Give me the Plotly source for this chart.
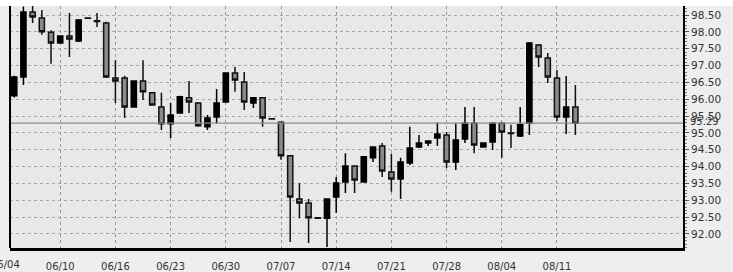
import plotly.graph_objects as go

# trading-day index (6 sessions per week), index 0 = 06/04 (left of visible range)
day_index = list(range(1, 63))

open_ = [96.10, 96.66, 98.59, 98.41, 97.99, 97.67, 97.88, 97.73, 98.41, 98.33,
         98.26, 96.63, 96.63, 95.77, 96.54, 96.19, 95.77, 95.27, 95.59, 96.04,
         95.89, 95.18, 95.47, 95.92, 96.78, 96.51, 95.89, 96.04, 95.42, 95.32,
         94.32, 93.04, 92.92, 92.48, 92.47, 93.10, 93.54, 94.02, 93.54, 94.26,
         94.61, 93.84, 93.63, 94.11, 94.58, 94.70, 94.85, 94.94, 94.14, 94.82,
         95.29, 94.58, 94.73, 95.29, 95.00, 94.91, 95.29, 97.61, 97.22, 96.63,
         95.47, 95.77]
high_ = [96.70, 98.75, 98.85, 98.65, 98.05, 97.90, 98.56, 98.38, 98.43, 98.56,
         98.30, 97.16, 96.70, 96.56, 97.16, 96.20, 96.19, 95.89, 96.10, 96.54,
         95.92, 95.53, 96.30, 96.80, 96.96, 96.81, 96.06, 96.06, 95.43, 95.34,
         94.34, 93.51, 93.04, 92.49, 93.06, 93.69, 94.40, 94.04, 94.31, 94.60,
         94.70, 94.38, 94.26, 95.18, 94.94, 94.77, 95.32, 95.03, 95.29, 95.77,
         95.77, 94.72, 95.32, 95.32, 95.24, 95.77, 97.70, 97.64, 97.37, 96.87,
         96.69, 96.42]
low_ = [96.05, 96.42, 98.26, 97.91, 97.05, 97.65, 97.25, 97.70, 98.39, 98.14,
        96.63, 95.89, 95.44, 95.75, 95.98, 95.81, 95.09, 94.85, 95.57, 95.59,
        95.18, 95.09, 95.27, 95.90, 96.22, 95.68, 95.74, 95.18, 95.40, 94.20,
        91.76, 92.47, 91.73, 92.46, 91.61, 92.62, 93.22, 93.22, 93.52, 94.14,
        93.69, 93.25, 93.04, 94.05, 94.55, 94.61, 94.61, 93.96, 93.90, 94.70,
        94.40, 94.56, 94.49, 94.26, 94.55, 94.88, 94.94, 96.96, 96.48, 95.35,
        94.97, 94.94]
close_ = [96.66, 98.59, 98.44, 98.00, 97.67, 97.88, 97.79, 98.35, 98.40, 98.31,
          96.66, 96.54, 95.77, 96.54, 96.22, 95.83, 95.27, 95.53, 96.07, 95.92,
          95.21, 95.44, 95.89, 96.78, 96.57, 95.92, 96.04, 95.44, 95.41, 94.32,
          93.10, 92.92, 92.48, 92.47, 93.04, 93.51, 94.02, 93.60, 94.29, 94.58,
          93.87, 93.63, 94.14, 94.55, 94.70, 94.76, 94.97, 94.14, 94.79, 95.29,
          94.64, 94.70, 95.29, 95.03, 94.98, 95.24, 97.67, 97.25, 96.66, 95.47,
          95.77, 95.29]

tick_index = [0, 6, 12, 18, 24, 30, 36, 42, 48, 54, 60]
tick_labels = ["06/04", "06/10", "06/16", "06/23", "06/30", "07/07",
               "07/14", "07/21", "07/28", "08/04", "08/11"]
last_price = close_[-1]

x_range = [0.54, 73.7]
y_range = [91.584, 98.767]

fig = go.Figure()
fig.add_trace(go.Candlestick(
    x=day_index, open=open_, high=high_, low=low_, close=close_,
    increasing=dict(fillcolor="#000000", line=dict(color="#000000", width=1.5)),
    decreasing=dict(fillcolor="#8a8a8a", line=dict(color="#111111", width=1.5)),
    whiskerwidth=0, showlegend=False, hoverinfo="skip",
))

fig.add_hline(y=last_price, line=dict(color="#8c8c8c", width=1.2))

# left frame line
fig.add_shape(type="line", xref="paper", yref="paper", x0=0, x1=0, y0=0, y1=1,
              line=dict(color="#000000", width=2))
# white strip above plot
fig.add_shape(type="rect", xref="paper", yref="paper", x0=-0.05, x1=1.2, y0=1.0, y1=1.05,
              fillcolor="#ffffff", line=dict(width=0), layer="below")

# first week label sits left of the visible range (partly cut off)
fig.add_annotation(x=(tick_index[0] - x_range[0]) / (x_range[1] - x_range[0]), y=0,
                   xref="paper", yref="paper", yanchor="top", xanchor="center",
                   text=tick_labels[0], showarrow=False, yshift=-9,
                   font=dict(family="DejaVu Sans", size=10, color="#333333"))
fig.add_annotation(x=1, y=last_price, xref="paper", yref="y", xanchor="left",
                   text=f"{last_price:.2f}", showarrow=False, xshift=5, yshift=2,
                   font=dict(family="DejaVu Sans", size=10, color="#333333"))

fig.update_layout(
    width=733, height=272,
    margin=dict(l=10, r=50, t=6, b=24, autoexpand=False),
    paper_bgcolor="#eeeeee", plot_bgcolor="#e8e8e8",
    font=dict(family="DejaVu Sans", size=10, color="#333333"),
    boxgap=0.2,
    xaxis=dict(
        range=x_range, rangeslider=dict(visible=False), automargin=False,
        tickmode="array", tickvals=tick_index, ticktext=tick_labels,
        showgrid=True, gridcolor="#9a9a9a", griddash="dot", gridwidth=1,
        showline=True, linecolor="#000000", linewidth=2.5,
        ticks="", ticklabelstandoff=7, zeroline=False,
    ),
    yaxis=dict(
        side="right", range=y_range, dtick=0.5, tick0=92, automargin=False,
        tickformat=".2f", tickfont=dict(size=10.5),
        showgrid=True, gridcolor="#a8a8a8", griddash="dot", gridwidth=1,
        showline=True, linecolor="#000000", linewidth=2,
        ticks="outside", ticklen=4, tickcolor="#555555", zeroline=False,
        minor=dict(dtick=0.1, ticks="outside", ticklen=2, tickcolor="#777777", showgrid=False),
    ),
)

fig.write_html("out.html", config={"displayModeBar": False},
               post_script="document.body.style.margin='0px';")
